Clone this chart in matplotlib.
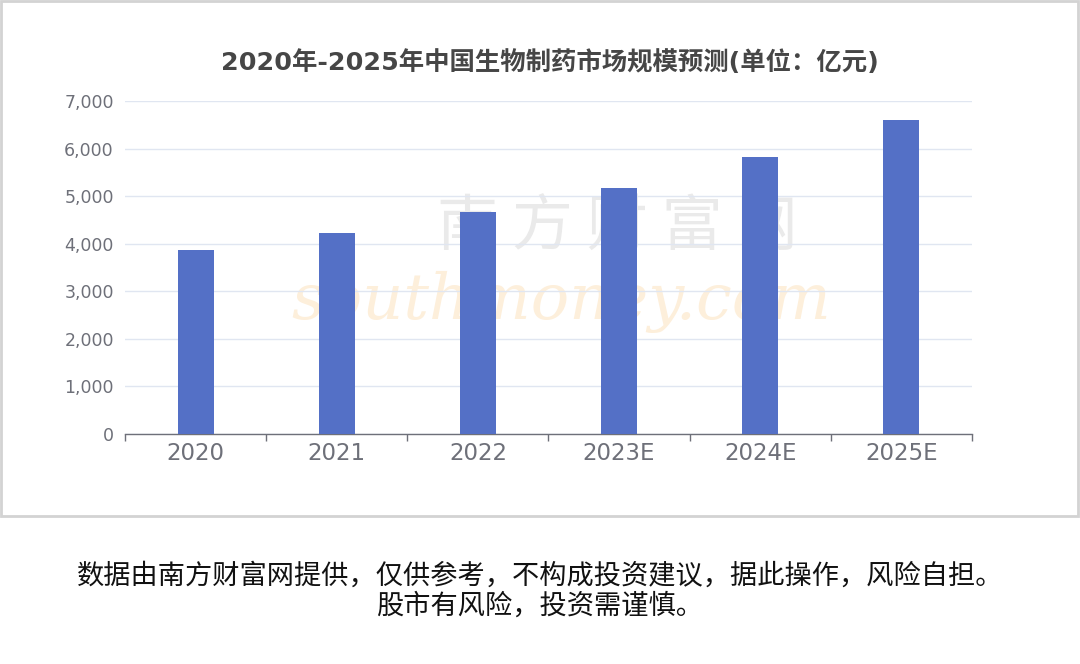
import matplotlib
matplotlib.use("Agg")
import numpy as np
from matplotlib import pyplot as plt
from matplotlib.patches import Rectangle

# chart data (亿元)
years = ["2020", "2021", "2022", "2023E", "2024E", "2025E"]
market_size = [3870, 4230, 4660, 5180, 5820, 6590]
y_ticks = [0, 1000, 2000, 3000, 4000, 5000, 6000, 7000]

title = "2020年-2025年中国生物制药市场规模预测(单位：亿元)"
note_line1 = "数据由南方财富网提供，仅供参考，不构成投资建议，据此操作，风险自担。"
note_line2 = "股市有风险，投资需谨慎。"

fams = ["DejaVu Sans", "Noto Sans CJK SC"]
plt.rcParams["font.family"] = fams

fig = plt.figure(figsize=(10.8, 6.64), dpi=100)
ax = fig.add_axes([0.1157, 0.3464, 0.7843, 0.5015])

# light frame around the chart area
fig.patches.append(Rectangle((0.001, 1 - 516 / 664), 0.997, 516 / 664 - 0.002,
                             transform=fig.transFigure, fill=False,
                             edgecolor="#D3D3D3", linewidth=2))

# faint watermark, kept behind the bars
ax.text(0.572, 0.655, "南 方 财 富 网", fontsize=44, color="#EAEAEA",
        family=["Noto Sans CJK SC"], ha="center", va="center",
        transform=fig.transFigure, zorder=1)
ax.text(0.52, 0.545, "southmoney.com", fontsize=46, color="#FDEFDB",
        style="italic", family=["DejaVu Serif"], ha="center", va="center",
        transform=fig.transFigure, zorder=1)

x = np.arange(len(years))
ax.bar(x, market_size, width=0.255, color="#5470C6", zorder=3)

ax.set_xlim(-0.5, len(years) - 0.5)
ax.set_ylim(0, 7000)
ax.set_yticks(y_ticks)
ax.set_yticklabels([f"{v:,}" for v in y_ticks])
ax.set_xticks(x)
ax.set_xticklabels(years)
ax.set_xticks(np.arange(len(years) + 1) - 0.5, minor=True)

ax.grid(axis="y", color="#E0E6F1", linewidth=1, zorder=0)
for s in ["top", "right", "left"]:
    ax.spines[s].set_visible(False)
ax.spines["bottom"].set_color("#6E7079")
ax.spines["bottom"].set_linewidth(1)

ax.tick_params(axis="y", length=0, pad=8, labelsize=12.5, labelcolor="#6E7079")
ax.tick_params(axis="x", which="major", length=0, pad=6, labelsize=16.5, labelcolor="#6E7079")
ax.tick_params(axis="x", which="minor", length=5, color="#6E7079", width=1)

fig.text(0.509, 1 - 63 / 664, title, fontsize=18.3, fontweight="bold",
         color="#464646", ha="center", va="center")

fig.text(0.5, 1 - 576 / 664, note_line1, fontsize=19.6, color="#111111",
         family=["Noto Sans CJK SC"], ha="center", va="center")
fig.text(0.5, 1 - 606 / 664, note_line2, fontsize=19.6, color="#111111",
         family=["Noto Sans CJK SC"], ha="center", va="center")

fig.savefig("out.png", dpi=100)
